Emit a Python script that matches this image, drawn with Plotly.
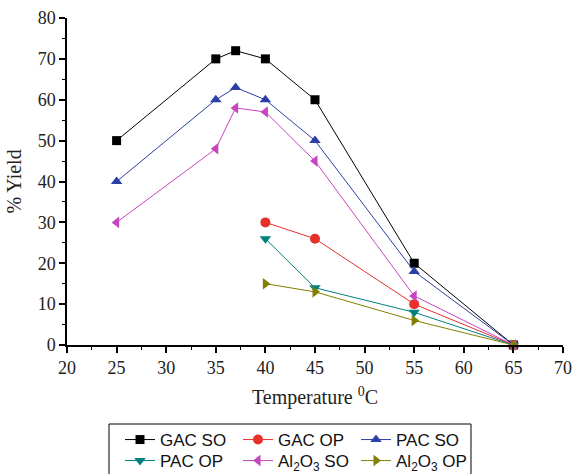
import plotly.graph_objects as go

temps_so = [25, 35, 37, 40, 45, 55, 65]
temps_op = [40, 45, 55, 65]
gac_so = [50, 70, 72, 70, 60, 20, 0]
pac_so = [40, 60, 63, 60, 50, 18, 0]
al_so = [30, 48, 58, 57, 45, 12, 0]
gac_op = [30, 26, 10, 0]
pac_op = [26, 14, 8, 0]
al_op = [15, 13, 6, 0]

series = [
    ("GAC SO", temps_so, gac_so, "#000000", "square", "legend"),
    ("GAC OP", temps_op, gac_op, "#e8302a", "circle", "legend"),
    ("PAC SO", temps_so, pac_so, "#2b3fa6", "triangle-up", "legend"),
    ("PAC OP", temps_op, pac_op, "#00807f", "triangle-down", "legend2"),
    ("Al<sub>2</sub>O<sub>3</sub> SO", temps_so, al_so, "#c845c0", "triangle-left", "legend2"),
    ("Al<sub>2</sub>O<sub>3</sub> OP", temps_op, al_op, "#808000", "triangle-right", "legend2"),
]

fig = go.Figure()
for name, x, y, c, sym, lg in series:
    fig.add_trace(go.Scatter(
        x=x, y=y, name=name, mode="lines+markers", legend=lg,
        line=dict(color=c, width=1),
        marker=dict(color=c, symbol=sym, size=10 if sym != "square" else 9),
        cliponaxis=False,
    ))

axis_common = dict(
    showline=True, linecolor="black", linewidth=1.5, mirror=False,
    ticks="outside", ticklen=6, tickwidth=1.5, tickcolor="black",
    showgrid=False, zeroline=False, automargin=False,
    tickfont=dict(family="Liberation Serif", size=18, color="#222"),
)

W, H = 573, 474
legend_common = dict(orientation="h", xref="container", yref="container",
                     x=120 / W, xanchor="left", yanchor="top",
                     entrywidth=73, entrywidthmode="pixels",
                     borderwidth=0, bgcolor="rgba(0,0,0,0)",
                     font=dict(family="Liberation Sans", size=17, color="#111"))

fig.update_layout(
    width=W, height=H,
    margin=dict(l=67, r=10, t=18, b=129),
    plot_bgcolor="white", paper_bgcolor="white",
    xaxis=dict(range=[20, 70], dtick=5,
               minor=dict(ticks="outside", ticklen=3, tickwidth=1, tickcolor="black", dtick=2.5),
               title=dict(text="Temperature <sup>0</sup>C",
                          font=dict(family="Liberation Serif", size=20, color="#222"), standoff=13),
               **axis_common),
    yaxis=dict(range=[0, 80], dtick=10,
               minor=dict(ticks="outside", ticklen=3, tickwidth=1, tickcolor="black", dtick=5),
               title=dict(text="% Yield",
                          font=dict(family="Liberation Serif", size=20, color="#222"), standoff=11),
               **axis_common),
    legend=dict(y=(H - 422) / H, **legend_common),
    legend2=dict(y=(H - 443) / H, **legend_common),
    shapes=[dict(type="rect", xref="paper", yref="paper",
                 x0=0.0847, x1=0.8145, y0=-0.2416, y1=-0.6,
                 line=dict(color="black", width=1), fillcolor="rgba(0,0,0,0)", layer="below")],
)

fig.write_html("out.html", config={"displayModeBar": False},
               post_script="document.body.style.margin='0';document.body.style.overflow='hidden';")
